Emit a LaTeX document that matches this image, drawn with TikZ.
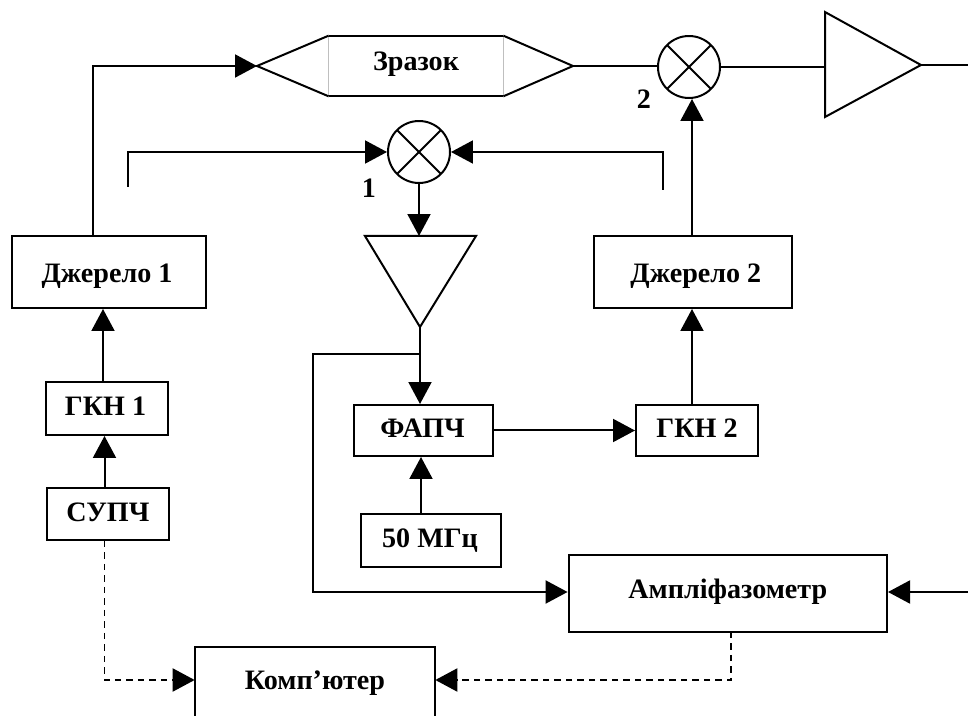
\documentclass[tikz,border=0pt]{standalone}
\usepackage{fontspec}
\setmainfont{Liberation Serif}
\usepackage{tikz}
\usetikzlibrary{arrows.meta}
\usetikzlibrary{positioning}
\newcommand{\nudge}[3]{\raisebox{#2}[\height][\depth]{\hspace*{#1}#3}}
\tikzset{
  box/.style={draw, line width=0.04cm, inner sep=0pt, font=\fontsize{16}{19}\selectfont\bfseries},
  mixer/.style={circle, draw, line width=0.04cm, minimum size=1.24cm, inner sep=0pt,
    path picture={
      \draw[line width=0.04cm] (path picture bounding box.north west) -- (path picture bounding box.south east);
      \draw[line width=0.04cm] (path picture bounding box.north east) -- (path picture bounding box.south west);
    }},
  tag/.style={inner sep=0pt, font=\fontsize{16}{19}\selectfont\bfseries},
  wire/.style={line width=0.04cm},
  sig/.style={wire, -{Triangle[length=0.44cm, width=0.46cm]}},
  ctrl/.style={line width=0.035cm, dash pattern=on 0.13cm off 0.10cm}
}

\begin{document}
\begin{tikzpicture}[x=0.02cm, y=-0.02cm]
    % 1. Page frame, the picture is cut at the right and bottom edges
    \clip (0,0) rectangle (968,716);

    % 2. Blocks
    \node[box, minimum width=3.87cm, minimum height=1.44cm] (source1) at (109,272) {\nudge{-0.08cm}{-0.08cm}{Джерело 1}};
    \node[box, minimum width=3.95cm, minimum height=1.44cm] (source2) at (692.85,272) {\nudge{0.12cm}{-0.08cm}{Джерело 2}};
    \node[box, minimum width=2.45cm, minimum height=1.06cm] (vco1) at (107.25,408.5) {\nudge{-0.07cm}{0.04cm}{ГКН 1}};
    \node[box, minimum width=2.43cm, minimum height=1.04cm] (sync) at (107.85,514) {\nudge{0cm}{0.04cm}{СУПЧ}};
    \node[box, minimum width=2.78cm, minimum height=1.02cm] (pll) at (423.5,430.5) {\nudge{-0.04cm}{0.04cm}{ФАПЧ}};
    \node[box, minimum width=2.44cm, minimum height=1.02cm] (vco2) at (697,430.5) {\nudge{0cm}{0.04cm}{ГКН 2}};
    \node[box, minimum width=2.80cm, minimum height=1.06cm] (ref) at (431,540.5) {\nudge{-0.04cm}{0cm}{50 МГц}};
    \node[box, minimum width=6.37cm, minimum height=1.54cm] (phase) at (727.8,593.5) {\nudge{0cm}{0.03cm}{Ампліфазометр}};

    % 2a. The computer block runs off the bottom edge
    \node[box, minimum width=4.80cm, minimum height=2.00cm] (pcbox) at (315,697) {};
    \node[tag, minimum width=4.80cm] (pc) at (315,680) {\nudge{0cm}{-0.07cm}{Комп’ютер}};

    % 3. Sample with its two tapers
    \node[tag, minimum width=3.48cm, minimum height=1.20cm] (sample) at (416,66) {\nudge{0cm}{0.04cm}{Зразок}};
    \coordinate (taperL) at (257,66);
    \coordinate (taperR) at (573,66);
    \draw[wire] (sample.north west) -- (sample.north east);
    \draw[wire] (sample.south west) -- (sample.south east);
    \draw[gray!50, line width=0.03cm] (sample.north west) -- (sample.south west);
    \draw[gray!50, line width=0.03cm] (sample.north east) -- (sample.south east);
    \draw[wire] (sample.north west) -- (taperL) -- (sample.south west);
    \draw[wire] (sample.north east) -- (taperR) -- (sample.south east);

    % 4. Mixers
    \node[mixer] (mix1) at (419,152) {};
    \node[mixer] (mix2) at (689,67) {};
    \node[tag] (num1) at (369,188) {1};
    \node[tag] (num2) at (644,99) {2};

    % 5. Amplifiers
    \coordinate (ampAa) at (365,236);
    \coordinate (ampAb) at (476,236);
    \coordinate (ampAtip) at (420,327);
    \draw[wire, line join=miter] (ampAa) -- (ampAb) -- (ampAtip) -- cycle;
    \coordinate (ampBa) at (825,12);
    \coordinate (ampBb) at (825,117);
    \coordinate (ampBtip) at (921,65);
    \draw[wire, line join=miter] (ampBa) -- (ampBb) -- (ampBtip) -- cycle;

    % 6. Free ends, tap points and columns of the vertical lines
    \coordinate (tapL) at (128,187);
    \coordinate (tapR) at (663,190);
    \coordinate (branch) at (420,354);
    \coordinate (rail) at (313,354);
    \coordinate (outA) at (968,65);
    \coordinate (inB) at (968,592);
    \coordinate (src1up) at (93,236);
    \coordinate (pcdrop) at (731,632);
    \coordinate (ampBin) at (825,67);
    \coordinate (pcinL) at (172,680);
    \coordinate (pcinR) at (458,680);
    \coordinate (colA) at (103,0);
    \coordinate (colE) at (104.5,0);
    \coordinate (colB) at (421,0);
    \coordinate (colC) at (692,0);

    % 7. Upper signal path
    \draw[sig] (src1up) |- (taperL);
    \draw[wire] (taperR) -- (mix2.west |- taperR);
    \draw[wire] (mix2.east) -- (ampBin);
    \draw[wire] (ampBtip) -- (outA);
    \draw[sig] (tapL) |- (mix1.west);
    \draw[sig] (tapR) |- (mix1.east);
    \draw[sig] (mix1.south) -- (ampAa -| mix1.south);

    % 8. Loop and sources
    \draw[wire] (ampAtip) -- (branch);
    \draw[sig] (branch) -- (pll.north -| branch);
    \draw[sig] (branch) -- (rail) |- (phase.west |- inB);
    \draw[sig] (pll.east) -- (vco2.west);
    \draw[sig] (ref.north -| colB) -- (pll.south -| colB);
    \draw[sig] (vco2.north -| colC) -- (source2.south -| colC);
    \draw[sig] (source2.north -| colC) -- (mix2.south -| colC);
    \draw[sig] (vco1.north -| colA) -- (source1.south -| colA);
    \draw[sig] (sync.north -| colE) -- (vco1.south -| colE);
    \draw[sig] (inB) -- (inB -| phase.east);

    % 9. Dashed control lines
    \draw[ctrl] (sync.south -| colE) |- (pcinL);
    \draw[sig] (pcinL) -- (pc.west);
    \draw[ctrl] (pcdrop) |- (pcinR);
    \draw[sig] (pcinR) -- (pc.east);
\end{tikzpicture}
\end{document}
